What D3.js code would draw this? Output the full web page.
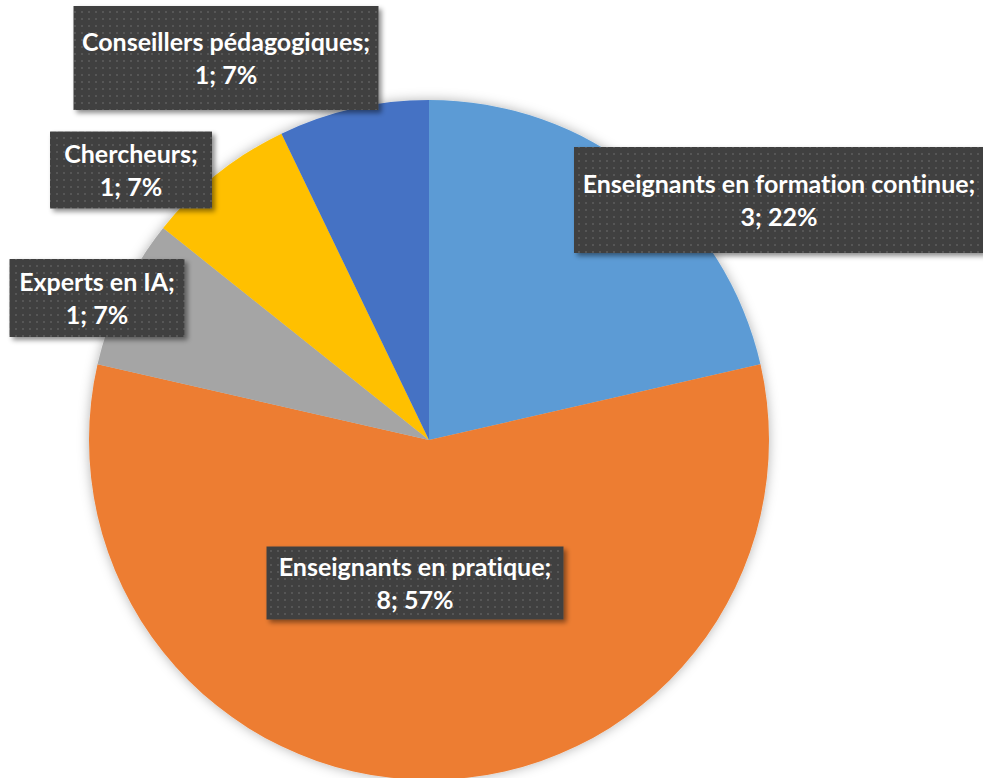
<!DOCTYPE html>
<html>
<head>
<meta charset="utf-8">
<script src="https://cdn.jsdelivr.net/npm/d3@7"></script>
<style>
  body { margin: 0; background: #fff; }
  .lbl text { font-family: Lato, "Open Sans", sans-serif; font-weight: bold; fill: #fff; font-variant-ligatures: none; }
</style>
</head>
<body>
<svg width="983" height="778"></svg>
<script>
const w = 983, h = 778;

// data
const categories = ["Enseignants en formation continue", "Enseignants en pratique", "Experts en IA", "Chercheurs", "Conseillers pédagogiques"];
const values = [3, 8, 1, 1, 1];
const percentLabels = ["22%", "57%", "7%", "7%", "7%"];
const colors = ["#5B9BD5", "#ED7D31", "#A5A5A5", "#FFC000", "#4472C4"];

// label boxes were dragged by hand in the original: centre + size
const labelBox = [
  {cx: 779, cy: 200, bw: 410, bh: 106},
  {cx: 415, cy: 583, bw: 297, bh: 73},
  {cx: 97,  cy: 298, bw: 175, bh: 78},
  {cx: 131, cy: 170, bw: 162, bh: 77},
  {cx: 226, cy: 58,  bw: 305, bh: 104}
];

const cx = 429, cy = 440, radius = 340;
const fontSize = 25, lineGap = 33;

const svg = d3.select("svg");
const defs = svg.append("defs");

// dotted dark texture of the labels
const pat = defs.append("pattern").attr("id", "dots")
    .attr("patternUnits", "userSpaceOnUse")
    .attr("width", 7).attr("height", 7);
pat.append("rect").attr("width", 7).attr("height", 7).attr("fill", "#404040");
pat.append("rect").attr("x", 2).attr("y", 2).attr("width", 2).attr("height", 2).attr("fill", "#575757");

const sh = defs.append("filter").attr("id", "shadow")
    .attr("x", "-20%").attr("y", "-20%").attr("width", "140%").attr("height", "150%");
sh.append("feDropShadow").attr("dx", 3).attr("dy", 3).attr("stdDeviation", 2.5)
    .attr("flood-color", "#000").attr("flood-opacity", 0.45);

const psh = defs.append("filter").attr("id", "pieShadow")
    .attr("x", "-10%").attr("y", "-10%").attr("width", "120%").attr("height", "120%");
psh.append("feDropShadow").attr("dx", 0).attr("dy", 0).attr("stdDeviation", 6)
    .attr("flood-color", "#000").attr("flood-opacity", 0.3);

const pie = d3.pie().sort(null).value(d => d)
const arc = d3.arc().innerRadius(0).outerRadius(radius);
const arcs = pie(values);

svg.append("g")
    .attr("transform", `translate(${[cx, cy]})`)
    .attr("filter", "url(#pieShadow)")
  .selectAll("path")
  .data(arcs)
  .join("path")
    .attr("d", arc)
    .attr("fill", (d, i) => colors[i]);

const labels = svg.append("g").attr("class", "lbl")
  .selectAll("g")
  .data(arcs)
  .join("g")
    .attr("transform", (d, i) => `translate(${[labelBox[i].cx, labelBox[i].cy]})`);

labels.append("rect")
    .attr("x", (d, i) => -labelBox[i].bw / 2)
    .attr("y", (d, i) => -labelBox[i].bh / 2)
    .attr("width", (d, i) => labelBox[i].bw)
    .attr("height", (d, i) => labelBox[i].bh)
    .attr("fill", "url(#dots)")
    .attr("filter", "url(#shadow)");

labels.each(function(d, i) {
  const t = d3.select(this).append("text")
      .attr("text-anchor", "middle")
      .style("font-size", fontSize + "px");
  t.append("tspan").attr("x", 0).attr("y", -lineGap / 2 + fontSize * 0.36)
      .text(categories[i] + ";");
  t.append("tspan").attr("x", 0).attr("y", lineGap / 2 + fontSize * 0.36)
      .text(values[i] + "; " + percentLabels[i]);
});
</script>
</body>
</html>
